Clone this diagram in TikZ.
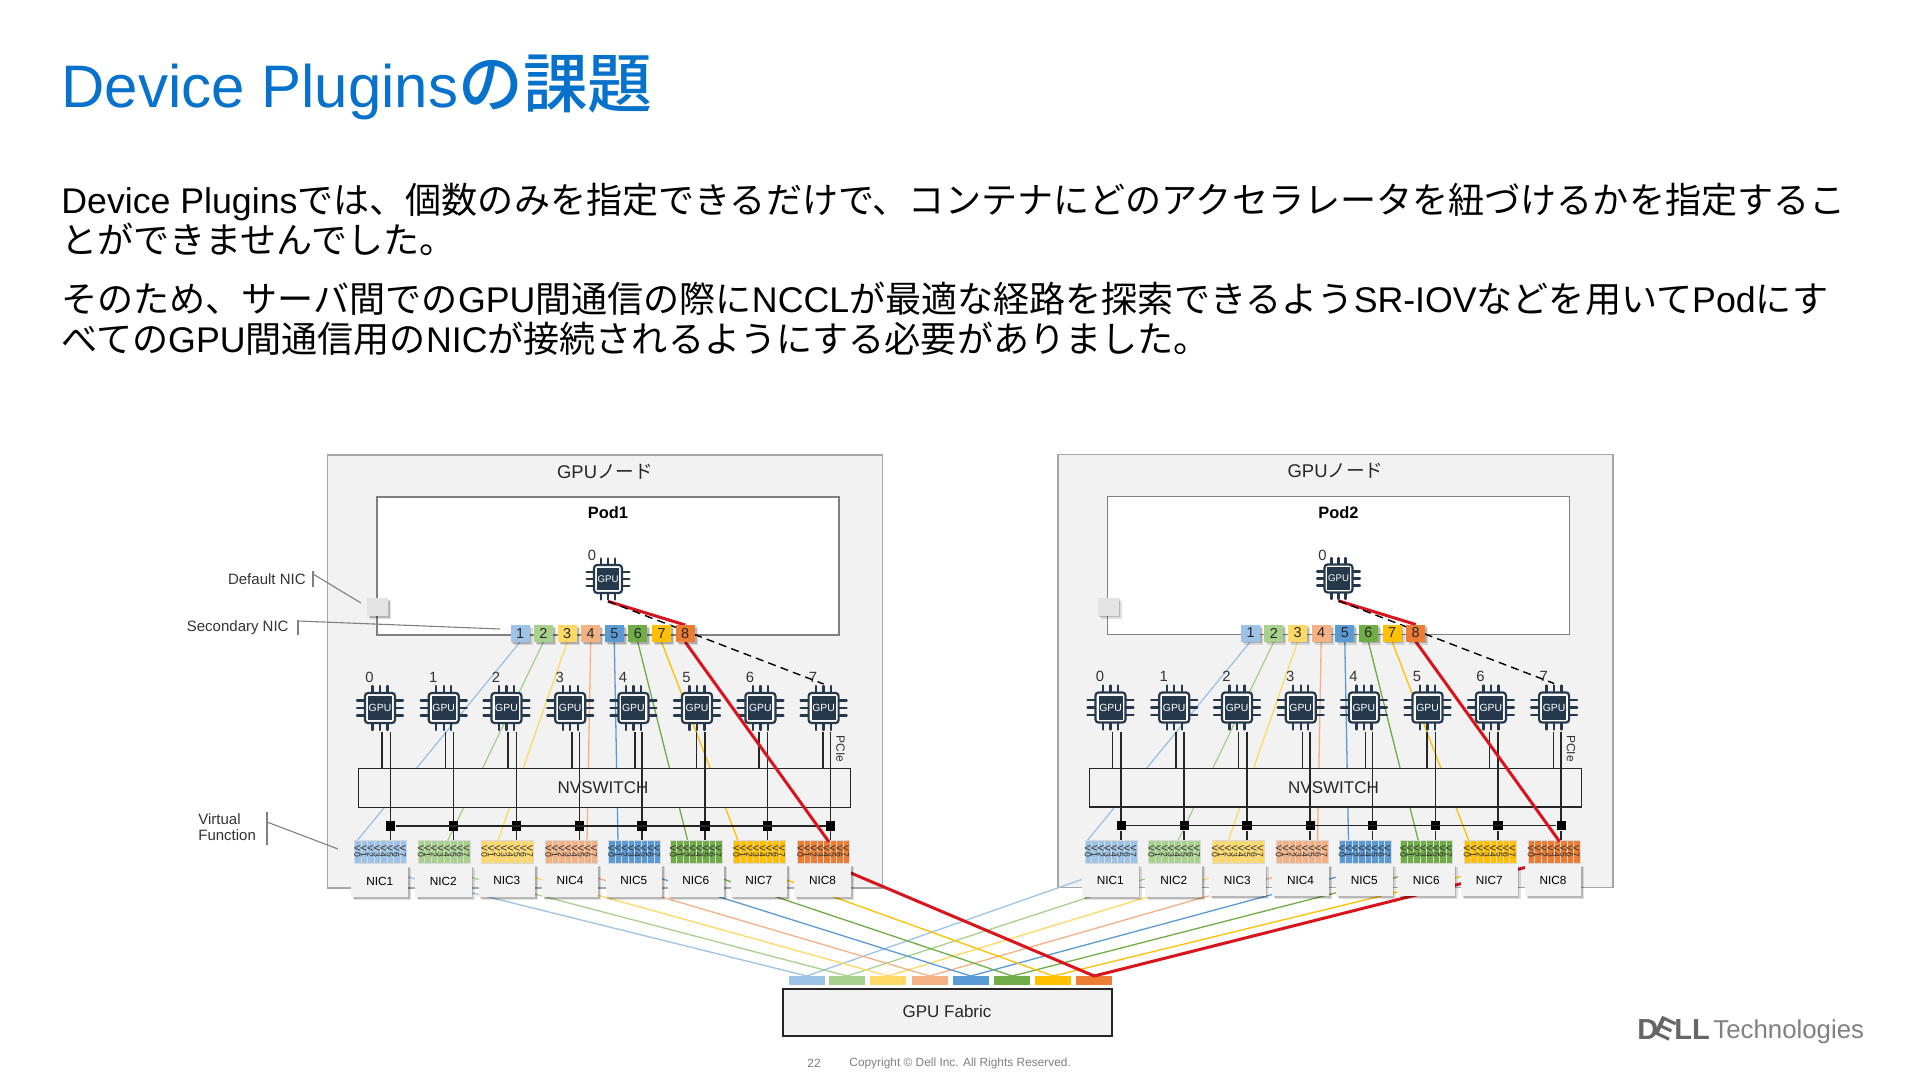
\documentclass[tikz,border=0pt]{standalone}
\usepackage{fontspec}
\usetikzlibrary{shadows}
\setmainfont{Liberation Sans}
\newfontfamily\jpf[Scale=1.011]{Noto Sans CJK JP}
\newfontfamily\jpt[Scale=1.08]{Noto Sans CJK JP Medium}
\newcommand\J[1]{{\jpf #1}}
\definecolor{c1}{HTML}{9DC3E6}
\definecolor{c2}{HTML}{A9D18E}
\definecolor{c3}{HTML}{FFD966}
\definecolor{c4}{HTML}{F4B183}
\definecolor{c5}{HTML}{5B9BD5}
\definecolor{c6}{HTML}{70AD47}
\definecolor{c7}{HTML}{FFC000}
\definecolor{c8}{HTML}{ED7D31}
\definecolor{redl}{HTML}{D9141C}
\definecolor{dellblue}{HTML}{0672CB}
\definecolor{panel}{HTML}{F2F2F2}
\definecolor{chipc}{HTML}{26394C}
\tikzset{
 shad/.style={
  drop shadow={shadow xshift=1.5pt,shadow yshift=-1.5pt,opacity=.12,fill=black},
  drop shadow={shadow xshift=.9pt,shadow yshift=-.9pt,opacity=.18,fill=black}},
 txt/.style={inner sep=0pt,font=#1},
 nodebox/.style={draw=black!35,fill=panel,line width=.8pt},
 podbox/.style={draw=black!50,fill=white,line width=.8pt},
 pin/.style={draw=chipc,line width=1.15pt,line cap=round},
 chipout/.style={draw=chipc,fill=white,line width=1.1pt,rounded corners=1.5pt},
 chipcore/.style={fill=chipc,text=white,minimum width=12pt,minimum height=12pt,inner sep=0pt,font=\fontsize{5.2}{6}\selectfont},
 numsq/.style={minimum width=9.5pt,minimum height=8.5pt,inner sep=0pt,shad,font=\fontsize{7.2}{8}\selectfont,text=black!85},
 thin/.style={line width=.65pt},
 redline/.style={draw=redl,line width=1.5pt},
 blk/.style={draw=black!85,line width=.75pt},
 busq/.style={fill=black,minimum size=4.6pt,inner sep=0pt},
 vfcell/.style={minimum width=3.25pt,minimum height=11.5pt,inner sep=0pt,draw=white!70!gray,line width=.15pt},
 nicbox/.style={fill=panel,minimum width=28.3pt,minimum height=16.3pt,inner sep=0pt,shad,font=\fontsize{5.9}{7}\selectfont},
 sw/.style={draw=black!85,fill=panel,line width=.7pt,inner sep=0pt},
 leader/.style={draw=black!50,line width=.55pt},
 lab/.style={inner sep=0pt,font=\fontsize{7.5}{9}\selectfont,text=black!80},
 num/.style={inner sep=0pt,font=\fontsize{7.4}{8}\selectfont,text=black!80}
}
\newcommand\chipgfx[4]{\begin{scope}[shift={(#2,#3)},scale=#4]
 \foreach \o in {-7.5,0,7.5}{
  \draw[pin] (\o,-15)--(\o,-22);
  \draw[pin] (\o,15)--(\o,22);
  \draw[pin] (-15,\o)--(-23,\o);
  \draw[pin] (15,\o)--(23,\o);}
 \draw[chipout] (-15,-15) rectangle (15,15);
 \node[chipcore,transform shape] (#1) at (0,0) {GPU};
 \coordinate (#1-s) at (0,24);
 \coordinate (#1-n) at (0,-24);
\end{scope}}
% back part of a GPU node: boxes and the fabric-side coordinates
\newcommand\nodeback[4]{\begin{scope}[shift={(#2,#3)}]
 \node[nodebox,minimum width=277.5pt,minimum height=216.5pt,inner sep=0pt,anchor=north west] (#1-box) at (326.5,454) {};
 \node[podbox,minimum width=231pt,minimum height=69pt,inner sep=0pt,anchor=north west] (#1-pod) at (376,496) {};
 \node[txt=\fontsize{9.2}{11}\selectfont,text=black!85] (#1-title) at (605,471.5) {GPU\J{ノード}};
 \node[txt=\fontsize{8.2}{10}\selectfont\bfseries] (#1-podname) at (608,513) {#4};
 \foreach \n/\x in {1/379.7,2/443,3/507,4/570,5/634,6/696,7/759,8/822.5}{
  \coordinate (#1-fab-\n) at (\x,\ifnum\n=8 861\else 870\fi);}
\end{scope}}
% front part of a GPU node
\newcommand\nodefront[3]{\begin{scope}[shift={(#2,#3)}]
 \coordinate (#1-vf1t) at (356,842);\coordinate (#1-vf2t) at (447,842);
 \coordinate (#1-vf3t) at (497.5,842);\coordinate (#1-vf4t) at (587,842);
 \coordinate (#1-vf5t) at (618,842);\coordinate (#1-vf6t) at (688,842);
 \coordinate (#1-vf7t) at (738.6,842);\coordinate (#1-vf8t) at (829,842);
 \foreach \n/\x in {1/520,2/543.4,3/567.2,4/590.7,5/614.3,6/637.8,7/661.6,8/685.2}{
  \coordinate (#1-sqb\n) at (\x,642);
  \coordinate (#1-sqt\n) at (\x,625);}
 \foreach \n in {1,...,7}{\draw[thin,draw=c\n] (#1-sqb\n) -- (#1-vf\n t);}
 % chips
 \chipgfx{#1-pg}{608}{579}{.93}
 \node[num] (#1-pgl) at (592,555.7) {0};
 \foreach \i/\x/\l/\r in {0/380/382/390.7,1/443.7/445.4/453.6,2/506.5/508/516.4,3/570.2/572/579.6,4/633.4/635/642,5/697/696.4/705,6/760.4/759/767.5,7/823.6/823/830.7}{
  \coordinate (#1-ls\i) at (\l,768);
  \node[busq] (#1-bq\i) at (\r,826) {};
  \draw[blk] (\l,732) -- (#1-ls\i);
  \chipgfx{#1-g\i}{\x}{708}{1}
  \node[num] (#1-gl\i) at (\x-10.5,677) {\i};
 }
 \node[sw,minimum width=246pt,minimum height=19.3pt,anchor=north west] (#1-sw) at (358,768) {};
 \node[txt=\fontsize{8.5}{10}\selectfont,text=black!85] (#1-swl) at (603,788) {NVSWITCH};
 \foreach \i/\r in {0/390.7,1/453.6,2/516.4,3/579.6,4/642,5/705,6/767.5,7/830.7}{
  \draw[blk] (\r,732) -- (#1-bq\i);
  \draw[blk] (#1-bq\i) -- (\r,841);
 }
 \draw[blk] (#1-bq0) -- (#1-bq7);
 \node[txt=\fontsize{6}{7}\selectfont,rotate=-90,text=black!80] (#1-pcie) at (840.5,749) {PCIe};
 \foreach \n/\x in {1/354,2/417.5,3/481,4/545,5/608,6/669.5,7/733,8/797}{
  \foreach \k in {0,...,7}{
   \node[vfcell,fill=c\n,anchor=north west] (#1-vf\n-\k) at (\x+\k*6.5,840) {};
   \node[inner sep=0pt,rotate=-90,font=\fontsize{4.3}{5}\selectfont,text=black!85] (#1-vt\n-\k) at (\x+3.25+\k*6.5,851.5) {V\,\k};
  }}
 \draw[redline] (#1-pg-s) -- (#1-sqt8);
 \draw[redline] (#1-sqb8) -- (#1-vf8t);
 \draw[line width=.7pt,dash pattern=on 4pt off 2.6pt] (#1-pg-s) -- (#1-g7-n);
 \foreach \n/\x in {1/520,2/543.4,3/567.2,4/590.7,5/614.3,6/637.8,7/661.6,8/685.2}{
  \node[numsq,fill=c\n] (#1-sq\n) at (\x,633.5) {\n};}
 \foreach \n/\x/\y in {1/379.7/881,2/443.2/881,3/506.8/880.5,4/570/880.5,5/633.8/880.5,6/695.8/880.5,7/758.8/880.5,8/822.5/880.5}{
  \node[nicbox] (#1-nic\n) at (\x,\y) {NIC\n};}
 \node[fill=black!11,minimum width=10.5pt,minimum height=9pt,inner sep=0pt,shad] (#1-def) at (377.5,607) {};
\end{scope}}
\begin{document}
\begin{tikzpicture}[x=0.5pt,y=-0.5pt]
\useasboundingbox (0,0) rectangle (1920,1080);
\fill[white] (0,0) rectangle (1920,1080);
% heading
\node[inner sep=0pt,anchor=base west,text=dellblue,font=\fontsize{30}{36}\selectfont] (title) at (61,108) {Device Plugins{\jpt の課題}};
% body
\node[inner sep=0pt,anchor=base west,font=\fontsize{17.85}{22}\selectfont] (l1) at (61,214) {Device Plugins\J{では、個数のみを指定できるだけで、コンテナにどのアクセラレータを紐づけるかを指定するこ}};
\node[inner sep=0pt,anchor=base west,font=\fontsize{17.85}{22}\selectfont] (l2) at (61,253.5) {\J{とができませんでした。}};
\node[inner sep=0pt,anchor=base west,font=\fontsize{17.85}{22}\selectfont] (l3) at (61,312.5) {\J{そのため、サーバ間での}GPU\J{間通信の際に}NCCL\J{が最適な経路を探索できるよう}SR-IOV\J{などを用いて}Pod\J{にす}};
\node[inner sep=0pt,anchor=base west,font=\fontsize{17.85}{22}\selectfont] (l4) at (61,352) {\J{べての}GPU\J{間通信用の}NIC\J{が接続されるようにする必要がありました。}};
% node boxes
\nodeback{A}{0}{0}{Pod1}
\nodeback{B}{730.5}{-0.5}{Pod2}
% fabric
\node[sw,minimum width=164.5pt,minimum height=23.5pt,anchor=north west,draw=black!85,line width=.8pt] (fab) at (782,988) {};
\node[txt=\fontsize{8.5}{10}\selectfont,text=black!85] (fabl) at (947,1011) {GPU Fabric};
\foreach \n/\x in {1/788.7,2/829,3/870,4/911.5,5/952.5,6/994,7/1035,8/1076}{
 \node[fill=c\n,minimum width=17.8pt,minimum height=4.5pt,inner sep=0pt,anchor=north west] (F\n) at (\x,976) {};}
\foreach \n in {1,...,7}{
 \draw[thin,draw=c\n] (A-fab-\n) -- (F\n.north);
 \draw[thin,draw=c\n] (B-fab-\n) -- (F\n.north);}
\draw[redline] (A-fab-8) -- (F8.north);
\draw[redline] (B-fab-8) -- (F8.north);
\nodefront{A}{0}{0}
\nodefront{B}{730.5}{-0.5}
% callouts
\node[lab,anchor=east] (dn) at (306,579) {Default NIC};
\coordinate (dna) at (313,571);\coordinate (dnb) at (313,587);
\coordinate (dnc) at (313,574);\coordinate (dnd) at (361,603);
\draw[leader] (dna) -- (dnb);
\draw[leader] (dnc) -- (dnd);
\node[lab,anchor=east] (sn) at (289,627.5) {Secondary NIC};
\coordinate (sna) at (298,620);\coordinate (snb) at (298,635);
\coordinate (snc) at (298,621);\coordinate (snd) at (500,629);
\draw[leader] (sna) -- (snb);
\draw[leader] (snc) -- (snd);
\node[lab,anchor=west,align=left] (vf) at (198,827) {Virtual\\[-1pt]Function};
\coordinate (vfa) at (267,812);\coordinate (vfb) at (267,845);
\coordinate (vfc) at (267,822);\coordinate (vfd) at (338,849);
\draw[leader] (vfa) -- (vfb);
\draw[leader] (vfc) -- (vfd);
% footer
\node[inner sep=0pt,text=black!50,font=\fontsize{5.95}{7}\selectfont] (pg) at (814,1063.5) {22};
\node[inner sep=0pt,anchor=west,text=black!50,font=\fontsize{5.95}{7}\selectfont] (copy) at (849,1063.5) {Copyright © Dell Inc. All Rights Reserved.};
% logo
\node[inner sep=0pt,anchor=base west,text=black!60,font=\fontsize{14.5}{16}\selectfont\bfseries] (dl1) at (1637,1039) {D};
\node[inner sep=0pt,text=black!60,rotate=-25,font=\fontsize{14.5}{16}\selectfont\bfseries] (dl2) at (1665,1029) {E};
\node[inner sep=0pt,anchor=base west,text=black!60,font=\fontsize{14.5}{16}\selectfont\bfseries] (dl3) at (1674,1039) {LL};
\node[inner sep=0pt,anchor=base west,text=black!50,font=\fontsize{12.9}{14}\selectfont] (dl4) at (1713,1038.3) {Technologies};
\end{tikzpicture}
\end{document}
